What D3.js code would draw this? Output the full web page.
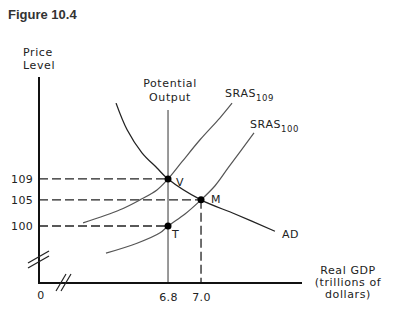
<!DOCTYPE html>
<html>
<head>
<meta charset="utf-8">
<script src="https://cdn.jsdelivr.net/npm/d3@7"></script>
<style>
  body { margin: 0; background: #fff; }
  text { font-family: "DejaVu Sans", sans-serif; font-size: 11px; fill: #222; letter-spacing: 0.6px; }
</style>
</head>
<body>
<script>
// price levels and GDP ticks
var priceTicks = [100, 105, 109];
var gdpTicks = [6.8, 7.0];

// curves (GDP in trillions, price level)
var adCurve = [[6.485, 123.5], [6.552, 118.4], [6.642, 114.0], [6.733, 111.1], [6.8, 109], [7.0, 105], [7.206, 102.3], [7.448, 99.0]];
var sras109 = [[6.285, 100.6], [6.509, 103.1], [6.630, 105.0], [6.733, 106.9], [6.8, 109], [6.885, 112.3], [6.994, 116.5], [7.115, 120.7], [7.188, 123.5]];
var sras100 = [[6.424, 94.8], [6.612, 96.7], [6.752, 98.7], [6.8, 100], [6.903, 102.3], [7.0, 105], [7.085, 107.7], [7.164, 111.1], [7.321, 117.8]];

// equilibrium points
var points = [
  {name: "V", gdp: 6.8, p: 109, dx: 8, dy: 7},
  {name: "M", gdp: 7.0, p: 105, dx: 10, dy: 3},
  {name: "T", gdp: 6.8, p: 100, dx: 4, dy: 12}
];
var potential = 6.8;

var width = 401, height = 316;
var svg = d3.select("body").append("svg")
  .attr("width", width).attr("height", height);

var x = d3.scaleLinear().domain([6.018, 7.612]).range([39, 302]);
var y = d3.scaleLinear().domain([89.1, 128.5]).range([283, 77]);

svg.append("text")
  .attr("x", 8).attr("y", 19)
  .style("font-family", "'Liberation Sans', Arial, sans-serif")
  .style("font-weight", "bold").style("font-size", "13px")
  .style("letter-spacing", "0px").style("fill", "#333")
  .text("Figure 10.4");

// axis labels
svg.append("text").attr("x", 23).attr("y", 56).text("Price");
svg.append("text").attr("x", 23).attr("y", 69).text("Level");

var gdpLabel = svg.append("text").attr("text-anchor", "middle");
["Real GDP", "(trillions of", "dollars)"].forEach(function(t, i) {
  gdpLabel.append("tspan").attr("x", 348).attr("y", 274 + i * 12).text(t);
});

// dashed guides
var dash = svg.append("g")
  .attr("stroke", "#222").attr("stroke-width", 1.3)
  .attr("stroke-dasharray", "9,4");
points.forEach(function(d) {
  dash.append("line")
    .attr("x1", x.range()[0]).attr("x2", x(d.gdp))
    .attr("y1", y(d.p)).attr("y2", y(d.p));
});
dash.append("line")
  .attr("x1", x(7.0)).attr("x2", x(7.0))
  .attr("y1", y(105)).attr("y2", y.range()[0]);

// potential output
svg.append("line")
  .attr("x1", x(potential)).attr("x2", x(potential))
  .attr("y1", 110).attr("y2", y.range()[0])
  .attr("stroke", "#777").attr("stroke-width", 1.5);
var po = svg.append("text").attr("text-anchor", "middle");
po.append("tspan").attr("x", 170).attr("y", 87).text("Potential");
po.append("tspan").attr("x", 170).attr("y", 101).text("Output");

var line = d3.line()
  .x(function(d) { return x(d[0]); })
  .y(function(d) { return y(d[1]); })
  .curve(d3.curveCatmullRom);

svg.append("path").datum(adCurve).attr("d", line)
  .attr("fill", "none").attr("stroke", "#222").attr("stroke-width", 1.3);
svg.append("path").datum(sras109).attr("d", line)
  .attr("fill", "none").attr("stroke", "#555").attr("stroke-width", 1.2);
svg.append("path").datum(sras100).attr("d", line)
  .attr("fill", "none").attr("stroke", "#555").attr("stroke-width", 1.2);

// curve labels
var s1 = svg.append("text").attr("x", 225).attr("y", 97);
s1.append("tspan").text("SRAS");
s1.append("tspan").attr("dy", 4).style("font-size", "8.5px").text("109");
var s2 = svg.append("text").attr("x", 250).attr("y", 128);
s2.append("tspan").text("SRAS");
s2.append("tspan").attr("dy", 4).style("font-size", "8.5px").text("100");
svg.append("text").attr("x", 282).attr("y", 238).text("AD");

// dots
svg.selectAll(".pt").data(points).enter().append("circle")
  .attr("cx", function(d) { return x(d.gdp); })
  .attr("cy", function(d) { return y(d.p); })
  .attr("r", 3.5).attr("fill", "#000");
svg.selectAll(".ptl").data(points).enter().append("text")
  .attr("x", function(d) { return x(d.gdp) + d.dx; })
  .attr("y", function(d) { return y(d.p) + d.dy; })
  .text(function(d) { return d.name; });

// axes
var yAx = svg.append("g").attr("transform", "translate(39,0)")
  .call(d3.axisLeft(y).tickValues(priceTicks).tickSize(0).tickPadding(6));
yAx.select(".domain").remove();
yAx.selectAll("text").style("font-size", "11px").style("letter-spacing", "0.3px")
  .style("font-family", "'DejaVu Sans', sans-serif").attr("fill", "#222");

var xAx = svg.append("g").attr("transform", "translate(0,283)")
  .call(d3.axisBottom(x).tickValues(gdpTicks).tickFormat(d3.format(".1f")).tickSize(0).tickPadding(10));
xAx.select(".domain").remove();
xAx.selectAll("text").style("font-size", "11px").style("letter-spacing", "0.3px")
  .style("font-family", "'DejaVu Sans', sans-serif").attr("fill", "#222");

svg.append("path")
  .attr("d", "M39," + y.range()[1] + "V" + y.range()[0] + "H" + x.range()[1])
  .attr("fill", "none").attr("stroke", "#111").attr("stroke-width", 2);

svg.append("text").attr("x", 41).attr("y", 299).attr("text-anchor", "middle").text("0");

// axis break marks
var brk = svg.append("g").attr("stroke", "#222").attr("stroke-width", 1.2);
[0, 5].forEach(function(o) {
  brk.append("line").attr("x1", 28).attr("y1", 268 - o).attr("x2", 49).attr("y2", 256 - o);
  brk.append("line").attr("x1", 56 + o).attr("y1", 291).attr("x2", 66 + o).attr("y2", 274);
});
</script>
</body>
</html>
